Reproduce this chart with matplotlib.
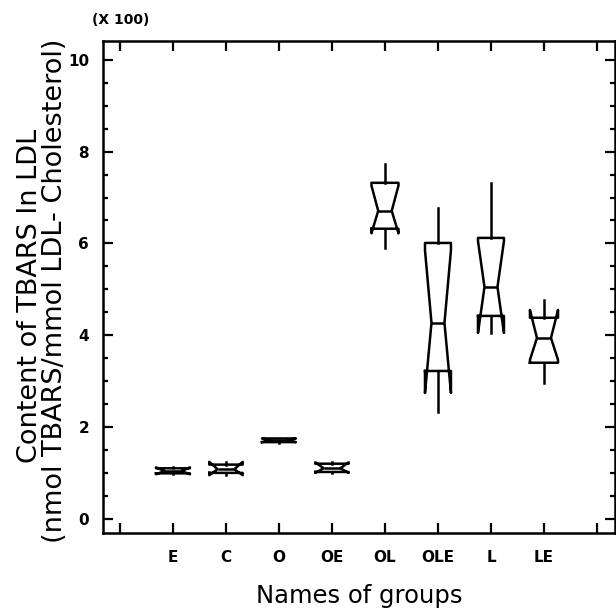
import matplotlib
matplotlib.use("Agg")
import matplotlib.pyplot as plt
from matplotlib.ticker import MultipleLocator, FixedLocator

# group names and box statistics (values in units of 100)
groups = ['E', 'C', 'O', 'OE', 'OL', 'OLE', 'L', 'LE']
med = [1.04, 1.08, 1.71, 1.10, 6.71, 4.27, 5.05, 3.94]
q1 = [0.99, 1.00, 1.67, 1.02, 6.32, 3.22, 4.42, 3.40]
q3 = [1.10, 1.18, 1.75, 1.20, 7.32, 6.01, 6.12, 4.38]
cilo = [0.97, 0.95, 1.67, 1.00, 6.22, 2.74, 4.05, 3.46]
cihi = [1.12, 1.24, 1.75, 1.23, 7.26, 5.85, 6.05, 4.55]
whislo = [0.97, 0.95, 1.66, 1.00, 5.90, 2.33, 4.05, 2.96]
whishi = [1.12, 1.24, 1.76, 1.23, 7.73, 6.78, 7.32, 4.77]
yticks = [0, 2, 4, 6, 8, 10]

box_widths = [0.64, 0.63, 0.64, 0.63, 0.51, 0.49, 0.49, 0.53]

stats = []
for i, g in enumerate(groups):
    stats.append(dict(label=g, med=med[i], q1=q1[i], q3=q3[i],
                      cilo=cilo[i], cihi=cihi[i],
                      whislo=whislo[i], whishi=whishi[i], fliers=[]))

fig = plt.figure(figsize=(6.16, 6.11), dpi=100)
ax = fig.add_axes([103 / 616, 1 - 533 / 611, 512 / 616, 492 / 611])

lw = 1.8
positions = list(range(1, len(groups) + 1))
ax.bxp(stats, positions=positions, widths=box_widths, shownotches=True,
       showcaps=False, showfliers=False, manage_ticks=False,
       boxprops=dict(color='black', linewidth=lw),
       whiskerprops=dict(color='black', linewidth=lw),
       medianprops=dict(color='black', linewidth=lw))

ax.set_xlim(-0.32, 9.34)
ax.set_ylim(-0.31, 10.41)

ax.xaxis.set_major_locator(FixedLocator(range(0, 10)))
ax.set_xticklabels([''] + groups + [''])
ax.set_yticks(yticks)
ax.yaxis.set_minor_locator(MultipleLocator(0.5))

for s in ax.spines.values():
    s.set_linewidth(1.8)

ax.tick_params(which='both', direction='in', top=True, right=True,
               width=1.6, labelsize=11)
ax.tick_params(which='major', length=7)
ax.tick_params(which='minor', length=3.5)
ax.tick_params(axis='x', pad=12)
ax.tick_params(axis='y', pad=10)
for t in ax.get_xticklabels() + ax.get_yticklabels():
    t.set_fontweight('bold')

ax.set_xlabel('Names of groups', fontsize=17.5, labelpad=14)
fig.text(30 / 616, 1 - 296 / 611, 'Content of TBARS In LDL', rotation=90,
         ha='center', va='center', fontsize=19.5)
fig.text(55 / 616, 1 - 291 / 611, '(nmol TBARS/mmol LDL- Cholesterol)',
         rotation=90, ha='center', va='center', fontsize=19.5)
fig.text(92 / 616, 1 - 20 / 611, '(X 100)', ha='left', va='center',
         fontsize=10, fontweight='bold')

fig.savefig('out.png', dpi=100)
